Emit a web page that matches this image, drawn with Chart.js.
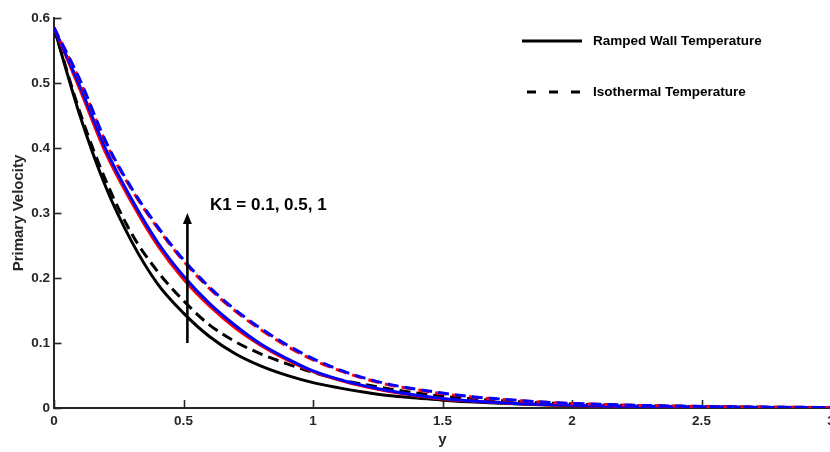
<!DOCTYPE html>
<html>
<head>
<meta charset="utf-8">
<script src="https://cdn.jsdelivr.net/npm/chart.js@4.4.1/dist/chart.umd.min.js"></script>
<style>
  html, body { margin: 0; padding: 0; background: #ffffff; overflow: hidden; width: 830px; height: 452px; }
  #wrap { position: relative; width: 840px; height: 452px; }
</style>
</head>
<body>
<div id="wrap"><canvas id="c" width="840" height="452"></canvas></div>
<script>
// ---- data ----
const yPos = [0,0.1,0.2,0.3,0.4,0.5,0.6,0.7,0.8,0.9,1.0,1.1,1.2,1.3,1.4,1.5,1.6,1.7,1.8,1.9,2.0,2.1,2.2,2.3,2.4,2.5,2.6,2.7,2.8,2.9,3.0];

const rampK01 = [0.585,0.450,0.340,0.256,0.191,0.146,0.110,0.0835,0.0644,0.0501,0.039,0.031,0.0242,0.0187,0.0155,0.012,0.0095,0.0075,0.006,0.0048,0.0038,0.003,0.0024,0.0019,0.0015,0.0012,0.001,0.0008,0.0006,0.0005,0.0004];
const rampK05 = [0.585,0.490,0.392,0.316,0.250,0.198,0.157,0.123,0.096,0.074,0.056,0.043,0.033,0.025,0.019,0.014,0.011,0.0085,0.0065,0.005,0.004,0.0032,0.0025,0.002,0.0016,0.0013,0.001,0.0008,0.0006,0.0005,0.0004];
const rampK1  = [0.585,0.495,0.398,0.321,0.255,0.203,0.161,0.127,0.098,0.076,0.057,0.044,0.034,0.026,0.0195,0.0145,0.0112,0.0087,0.0067,0.0052,0.0041,0.0033,0.0026,0.0021,0.0017,0.0013,0.001,0.0008,0.0006,0.0005,0.0004];

const isoK01 = [0.585,0.455,0.350,0.268,0.210,0.165,0.128,0.102,0.083,0.068,0.055,0.044,0.036,0.029,0.023,0.018,0.0145,0.0118,0.0095,0.0077,0.0062,0.005,0.004,0.0033,0.0027,0.0022,0.0018,0.0014,0.0011,0.0009,0.0007];
const isoK05 = [0.585,0.503,0.408,0.336,0.277,0.226,0.184,0.149,0.120,0.095,0.074,0.058,0.045,0.035,0.028,0.022,0.0175,0.014,0.011,0.0088,0.007,0.0056,0.0045,0.0036,0.0029,0.0023,0.0018,0.0014,0.0012,0.001,0.0008];
const isoK1  = [0.585,0.505,0.410,0.338,0.279,0.228,0.186,0.151,0.122,0.097,0.076,0.059,0.046,0.036,0.029,0.023,0.018,0.0145,0.0115,0.009,0.0072,0.0058,0.0046,0.0037,0.003,0.0024,0.0019,0.0015,0.0012,0.001,0.0008];

const xTickStep = 0.5;
const yTickStep = 0.1;
const xRange = [0, 3];
const yRange = [0, 0.6];

const xTitle = 'y';
const yTitle = 'Primary Velocity';
const legendLabels = ['Ramped Wall Temperature', 'Isothermal Temperature'];
const annotationText = 'K1 = 0.1, 0.5, 1';
const arrowSpec = [0.515, 0.1, 0.3];      // x, from y, to y (data units)
const annotationAt = [0.602, 0.312];       // x, y (data units)

// ---- build ----
const toPts = arr => arr.map((v, i) => ({ x: yPos[i], y: v }));
const AX = '#262626';
const FONT = '"Liberation Sans", Arial, Helvetica, sans-serif';
const fmt = v => String(+Number(v).toFixed(2));

function ds(label, data, color, dashed, order, dashOffset) {
  return {
    label, data: toPts(data), borderColor: color, backgroundColor: color,
    borderWidth: 3, pointRadius: 0, fill: false,
    cubicInterpolationMode: 'monotone',
    borderDash: dashed ? [11, 6] : [],
    borderDashOffset: dashOffset || 0,
    borderCapStyle: 'butt',
    order
  };
}

const inwardTicks = {
  id: 'inwardTicks',
  beforeDatasetsDraw(chart) {
    const { ctx, scales: { x, y }, chartArea: ca } = chart;
    ctx.save();
    ctx.strokeStyle = AX;
    ctx.lineWidth = 1.6;
    for (let v = yRange[0]; v <= yRange[1] + 1e-9; v += yTickStep) {
      const py = Math.round(y.getPixelForValue(v)) + 0.5;
      ctx.beginPath(); ctx.moveTo(ca.left, py); ctx.lineTo(ca.left + 7.5, py); ctx.stroke();
    }
    for (let v = xRange[0]; v <= xRange[1] + 1e-9; v += xTickStep) {
      const px = Math.round(x.getPixelForValue(v)) + 0.5;
      ctx.beginPath(); ctx.moveTo(px, ca.bottom); ctx.lineTo(px, ca.bottom - 8); ctx.stroke();
    }
    ctx.restore();
  }
};

const extras = {
  id: 'extras',
  afterDatasetsDraw(chart) {
    const { ctx, scales: { x, y } } = chart;
    ctx.save();
    // arrow
    const ax = x.getPixelForValue(arrowSpec[0]);
    const ay0 = y.getPixelForValue(arrowSpec[1]);
    const ay1 = y.getPixelForValue(arrowSpec[2]);
    ctx.strokeStyle = '#000'; ctx.fillStyle = '#000';
    ctx.lineWidth = 2.6;
    ctx.beginPath(); ctx.moveTo(ax, ay0); ctx.lineTo(ax, ay1 + 8); ctx.stroke();
    ctx.beginPath(); ctx.moveTo(ax, ay1); ctx.lineTo(ax - 4.5, ay1 + 11); ctx.lineTo(ax + 4.5, ay1 + 11); ctx.closePath(); ctx.fill();
    // annotation text
    ctx.font = 'bold 17px ' + FONT;
    ctx.textBaseline = 'middle'; ctx.textAlign = 'left';
    ctx.fillText(annotationText, x.getPixelForValue(annotationAt[0]), y.getPixelForValue(annotationAt[1]));
    // legend
    ctx.font = 'bold 13.5px ' + FONT;
    ctx.lineWidth = 3;
    ctx.setLineDash([]);
    ctx.beginPath(); ctx.moveTo(522, 41); ctx.lineTo(582, 41); ctx.stroke();
    ctx.fillText(legendLabels[0], 593, 41);
    ctx.setLineDash([9, 13]);
    ctx.beginPath(); ctx.moveTo(527, 92); ctx.lineTo(583, 92); ctx.stroke();
    ctx.setLineDash([]);
    ctx.fillText(legendLabels[1], 593, 92);
    ctx.restore();
  }
};

new Chart(document.getElementById('c'), {
  type: 'line',
  data: {
    datasets: [
      ds('Ramped K1 = 0.1', rampK01, '#000000', false, 6),
      ds('Isothermal K1 = 0.1', isoK01, '#000000', true, 5),
      ds('Ramped K1 = 0.5', rampK05, '#ff0000', false, 4),
      ds('Ramped K1 = 1', rampK1, '#0000ff', false, 3),
      ds('Isothermal K1 = 0.5', isoK05, '#ff0000', true, 2, 2),
      ds('Isothermal K1 = 1', isoK1, '#0000ff', true, 1)
    ]
  },
  options: {
    responsive: false,
    animation: false,
    devicePixelRatio: 1,
    layout: { padding: { top: 18, right: 9, left: 0, bottom: 0 } },
    plugins: { legend: { display: false }, tooltip: { enabled: false } },
    scales: {
      x: {
        type: 'linear', min: xRange[0], max: xRange[1],
        grid: { display: false, drawTicks: false },
        border: { display: true, color: AX, width: 2 },
        ticks: { stepSize: xTickStep, color: AX, padding: 5, callback: fmt, font: { family: FONT, size: 13.5, weight: 'bold' }, maxRotation: 0 },
        title: { display: true, text: xTitle, color: AX, font: { family: FONT, size: 15, weight: 'bold' }, padding: { top: 0, bottom: 3 } },
        afterFit: s => { s.height = 44; }
      },
      y: {
        type: 'linear', min: yRange[0], max: yRange[1],
        grid: { display: false, drawTicks: false },
        border: { display: true, color: AX, width: 2 },
        ticks: { stepSize: yTickStep, color: AX, padding: 4, callback: fmt, font: { family: FONT, size: 13.5, weight: 'bold' } },
        title: { display: true, text: yTitle, color: AX, font: { family: FONT, size: 15, weight: 'bold' }, padding: { top: 10, bottom: 0 } },
        afterFit: s => { s.width = 54; }
      }
    }
  },
  plugins: [inwardTicks, extras]
});
</script>
</body>
</html>
